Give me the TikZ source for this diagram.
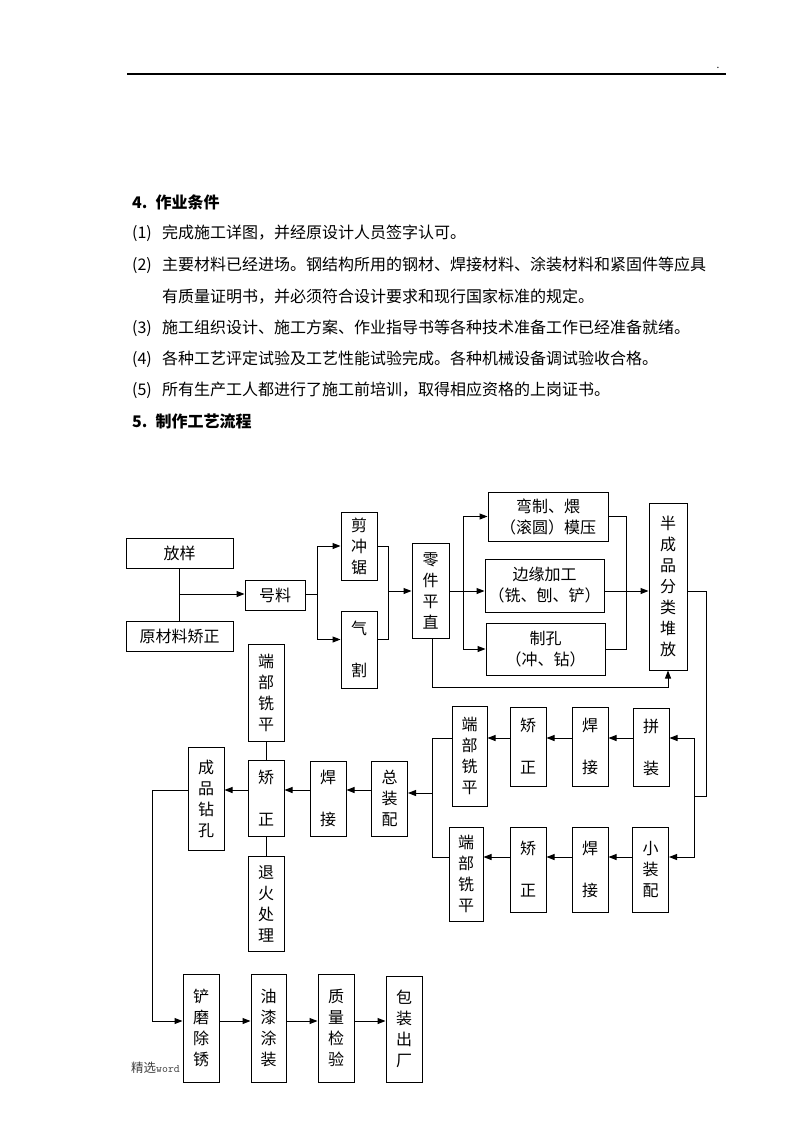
\documentclass[tikz,border=0pt]{standalone}
\usepackage{fontspec}
\setmainfont{Noto Sans CJK SC}
\usetikzlibrary{positioning, arrows.meta}

\begin{document}
\begin{tikzpicture}[
    x=1pt, y=-1pt,
    every node/.style={font=\fontsize{16}{21}\selectfont},
    txt/.style={anchor=west, inner sep=0pt},
    head/.style={txt, font=\fontsize{16}{21}\selectfont\bfseries},
    proc/.style={draw, line width=1pt, fill=white, inner sep=0pt, align=center, minimum width=36pt},
    wide/.style={proc, minimum width=119pt, minimum height=52pt},
    link/.style={line width=1pt},
    arrow/.style={link, -{Triangle[length=8pt, width=6pt]}}
]
\useasboundingbox (0,0) rectangle (800,1132);

% page header
\draw[line width=1.5pt] (127,74) -- (726,74);
\node[inner sep=0pt, font=\fontsize{10}{10}\selectfont] (dot) at (718,68) {.};

% conditions
\node[head] (head4) at (132,202) {4.\hspace{0.5em}作业条件};
\node[txt] (item1) at (132,233) {\makebox[30pt][l]{(1)}完成施工详图，并经原设计人员签字认可。};
\node[txt] (item2) at (132,265) {\makebox[30pt][l]{(2)}主要材料已经进场。钢结构所用的钢材、焊接材料、涂装材料和紧固件等应具};
\node[txt] (item2b) at (162,297) {有质量证明书，并必须符合设计要求和现行国家标准的规定。};
\node[txt] (item3) at (132,328) {\makebox[30pt][l]{(3)}施工组织设计、施工方案、作业指导书等各种技术准备工作已经准备就绪。};
\node[txt] (item4) at (132,359) {\makebox[30pt][l]{(4)}各种工艺评定试验及工艺性能试验完成。各种机械设备调试验收合格。};
\node[txt] (item5) at (132,390) {\makebox[30pt][l]{(5)}所有生产工人都进行了施工前培训，取得相应资格的上岗证书。};
\node[head] (head5) at (132,421) {5.\hspace{0.5em}制作工艺流程};

% footer
\node[txt, font=\fontsize{12.5}{13}\selectfont, text=black!75] (foot) at (131,1068) {精选{\ttfamily\fontsize{11.5}{13}\selectfont word}};

% cutting and machining
\node[proc, minimum width=107pt, minimum height=30pt] (fangyang) at (179.5,553) {放样};
\node[proc, minimum width=107pt, minimum height=30pt] (yuancai) at (179.5,636) {原材料矫正};
\node[proc, minimum width=60pt, minimum height=30pt] (haoliao) at (275,595) {号料};
\node[proc, minimum height=68pt] (jianchong) at (359,546) {剪\\冲\\锯};
\node[proc, minimum height=77pt] (qige) at (359,649.5) {气\\[21pt]割};
\node[proc, minimum width=37pt, minimum height=95pt] (lingjian) at (430.5,590.5) {零\\件\\平\\直};
\node[wide, minimum width=120pt, minimum height=49pt] (wanzhi) at (548,516.5) {弯制、煨\\（滚圆）模压};
\node[wide, minimum height=53pt] (bianyuan) at (544.5,585.5) {边缘加工\\（铣、刨、铲）};
\node[wide] (zhikong) at (545.5,649) {制孔\\（冲、钻）};
\node[proc, minimum width=38pt, minimum height=167pt] (banchengpin) at (668,586.5) {半\\成\\品\\分\\类\\堆\\放};

% assembly rows
\node[proc, minimum height=78pt] (pinzhuang) at (651,747) {拼\\[21pt]装};
\node[proc, minimum height=79pt] (hanjie1) at (590,746.5) {焊\\[21pt]接};
\node[proc, minimum height=79pt] (jiaozheng1) at (528,746.5) {矫\\[21pt]正};
\node[proc, minimum width=35pt, minimum height=100pt] (duanbu1) at (469.5,756) {端\\部\\铣\\平};
\node[proc, minimum height=85pt] (xiaozhuang) at (650.5,869.5) {小\\装\\配};
\node[proc, minimum height=85pt] (hanjie2) at (590,869.5) {焊\\[21pt]接};
\node[proc, minimum height=85pt] (jiaozheng2) at (528,869.5) {矫\\[21pt]正};
\node[proc, minimum width=34pt, minimum height=94pt] (duanbu2) at (466,874) {端\\部\\铣\\平};

% final assembly
\node[proc, minimum height=75pt] (zongzhuang) at (389.5,798.5) {总\\装\\配};
\node[proc, minimum height=75pt] (hanjie3) at (328,798.5) {焊\\[21pt]接};
\node[proc, minimum height=76pt] (jiaozheng3) at (266,798) {矫\\[21pt]正};
\node[proc, minimum height=97pt] (duanbu3) at (266,692.5) {端\\部\\铣\\平};
\node[proc, minimum height=95pt] (tuihuo) at (266,903.5) {退\\火\\处\\理};
\node[proc, minimum height=103pt] (chengpin) at (206,798.5) {成\\品\\钻\\孔};

% finishing
\node[proc, minimum height=108pt] (chanmo) at (201,1028) {铲\\磨\\除\\锈};
\node[proc, minimum width=35pt, minimum height=108pt] (youqi) at (268.5,1028) {油\\漆\\涂\\装};
\node[proc, minimum height=108pt] (zhiliang) at (336,1028) {质\\量\\检\\验};
\node[proc, minimum height=106pt] (baozhuang) at (404,1029) {包\\装\\出\\厂};

% branch points
\coordinate (m1) at (179.5,594);
\coordinate (f1) at (317,594);
\coordinate (j1) at (388,591);
\coordinate (f2) at (463,591);
\coordinate (j2) at (626,591);
\coordinate (fb) at (432,687);
\coordinate (turn) at (706,796);
\coordinate (f3) at (694,796);
\coordinate (ra) at (0,738);
\coordinate (rb) at (0,857);
\coordinate (j3) at (432,793);
\coordinate (rc) at (0,790);
\coordinate (c2) at (152,1021);

% material preparation
\draw[link] (fangyang) -- (yuancai);
\draw[arrow] (m1) -- (m1 -| haoliao.west);
\draw[link] (haoliao.east |- f1) -- (f1);
\draw[arrow] (f1) |- (jianchong.west);
\draw[arrow] (f1) |- ([yshift=10pt]qige.west);
\draw[link] (jianchong.east) -| (j1);
\draw[link] ([yshift=10pt]qige.east) -| (j1);
\draw[arrow] (j1) -- (j1 -| lingjian.west);

% machining
\draw[link] (lingjian.east |- f2) -- (f2);
\draw[arrow] (f2) |- (wanzhi.west);
\draw[arrow] (f2) -- (f2 -| bianyuan.west);
\draw[arrow] (f2) |- (zhikong.west);
\draw[link] (wanzhi.east) -| (j2);
\draw[link] (zhikong.east) -| (j2);
\draw[arrow] (bianyuan.east |- j2) -- (j2 -| banchengpin.west);
\draw[arrow] (lingjian.south -| fb) |- (fb -| banchengpin.south) -- (banchengpin.south);

% sub assembly
\draw[link] (j2 -| banchengpin.east) -| (turn) -- (f3);
\draw[arrow] (f3) |- (pinzhuang.east |- ra);
\draw[arrow] (f3) |- (xiaozhuang.east |- rb);
\foreach \a/\b in {pinzhuang/hanjie1, hanjie1/jiaozheng1, jiaozheng1/duanbu1}
  \draw[arrow] (\a.west |- ra) -- (\b.east |- ra);
\foreach \a/\b in {xiaozhuang/hanjie2, hanjie2/jiaozheng2, jiaozheng2/duanbu2}
  \draw[arrow] (\a.west |- rb) -- (\b.east |- rb);
\draw[link] (duanbu1.west |- ra) -| (j3);
\draw[link] (duanbu2.west |- rb) -| (j3);
\draw[arrow] (j3) -- (j3 -| zongzhuang.east);

% final assembly and finishing
\foreach \a/\b in {zongzhuang/hanjie3, hanjie3/jiaozheng3, jiaozheng3/chengpin}
  \draw[arrow] (\a.west |- rc) -- (\b.east |- rc);
\draw[link] (duanbu3) -- (jiaozheng3);
\draw[link] (jiaozheng3) -- (tuihuo);
\draw[arrow] (chengpin.west |- rc) -| (c2) -- (c2 -| chanmo.west);
\foreach \a/\b in {chanmo/youqi, youqi/zhiliang, zhiliang/baozhuang}
  \draw[arrow] (\a.east |- c2) -- (\b.west |- c2);

\end{tikzpicture}
\end{document}
